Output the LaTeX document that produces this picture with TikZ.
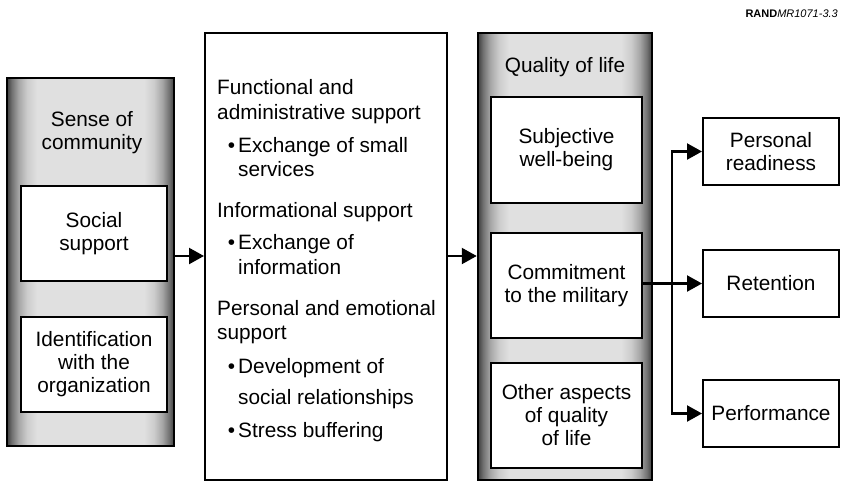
\documentclass[tikz,border=0pt]{standalone}
\usepackage{fontspec}
\setmainfont{Liberation Sans}
\usetikzlibrary{arrows.meta}
\pgfdeclarehorizontalshading{edgeshade}{100bp}{color(0bp)=(black!75); color(25bp)=(black!75); color(26.5bp)=(black!55); color(28.5bp)=(black!35); color(31bp)=(black!20); color(34bp)=(black!12); color(66bp)=(black!12); color(69bp)=(black!20); color(71.5bp)=(black!35); color(73.5bp)=(black!55); color(75bp)=(black!75); color(100bp)=(black!75)}
\tikzset{
  txt/.style={font=\fontsize{20.8}{23}\selectfont},
  outerbox/.style={draw, line width=2.5pt, shading=edgeshade, inner sep=0pt},
  innerbox/.style={draw, line width=2.2pt, fill=white, align=center, inner sep=0pt, txt},
  plainbox/.style={draw, line width=2pt, fill=white, inner sep=0pt},
  lline/.style={txt, anchor=base west, inner sep=0pt},
  arr/.style={line width=2.2pt, -{Triangle[length=15pt,width=16pt]}},
}
\newcommand{\bul}{\llap{\textbullet\hspace{3pt}}}
\begin{document}
\begin{tikzpicture}[x=1pt,y=-1pt]
\useasboundingbox (0,0) rectangle (843,483);
% left group
\node[outerbox, minimum width=167pt, minimum height=368pt] (leftbox) at (90.5,262) {};
\node[txt, align=center, inner sep=0pt] (soc) at (92,133) {Sense of\\community};
\node[innerbox, minimum width=146pt, minimum height=95pt] (social) at (94,233.5) {Social\\support};
\node[innerbox, minimum width=146pt, minimum height=95pt] (ident) at (94,364.5) {Identification\\with the\\organization};
% middle box
\node[plainbox, minimum width=242pt, minimum height=447pt] (midbox) at (326,256.5) {};
\node[lline] (m1) at (217,94) {Functional and};
\node[lline] (m2) at (217,119) {administrative support};
\node[lline] (m3) at (238,152) {\bul Exchange of small};
\node[lline] (m4) at (238,176) {services};
\node[lline] (m5) at (217,217) {Informational support};
\node[lline] (m6) at (238,249) {\bul Exchange of};
\node[lline] (m7) at (238,274) {information};
\node[lline] (m8) at (217,315) {Personal and emotional};
\node[lline] (m9) at (217,339) {support};
\node[lline] (m10) at (238,373) {\bul Development of};
\node[lline] (m11) at (238,404) {social relationships};
\node[lline] (m12) at (238,437) {\bul Stress buffering};
% quality of life
\node[outerbox, minimum width=174pt, minimum height=447pt] (qol) at (565,256.5) {};
\node[txt, inner sep=0pt] (qoltitle) at (565,67) {Quality of life};
\node[innerbox, minimum width=151pt, minimum height=106pt] (subj) at (566.5,150) {Subjective\\well-being};
\node[innerbox, minimum width=151pt, minimum height=105pt] (commit) at (566.5,285.5) {Commitment\\to the military};
\node[innerbox, minimum width=151pt, minimum height=105pt] (other) at (566.5,415.5) {Other aspects\\of quality\\of life};
% outcomes
\node[plainbox, txt, align=center, minimum width=136pt, minimum height=67pt] (pr) at (771,151.5) {Personal\\readiness};
\node[plainbox, txt, align=center, minimum width=136pt, minimum height=67pt] (ret) at (771,283.5) {Retention};
\node[plainbox, txt, align=center, minimum width=136pt, minimum height=67pt] (perf) at (771,413.5) {Performance};
% label
\node[anchor=base east, inner sep=0pt, font=\fontsize{11}{13}\selectfont] (rand) at (838,17) {\textbf{RAND}\textit{MR1071-3.3}};
% connectors
\coordinate (ay) at (0,256);
\coordinate (j) at (672,0);
\draw[arr] (leftbox.east |- ay) -- (midbox.west |- ay);
\draw[arr] (midbox.east |- ay) -- (qol.west |- ay);
\draw[arr] (commit.east |- ret.west) -- (ret.west);
\draw[arr] (j |- ret.west) |- (pr.west);
\draw[arr] (j |- ret.west) |- (perf.west);
\end{tikzpicture}
\end{document}
